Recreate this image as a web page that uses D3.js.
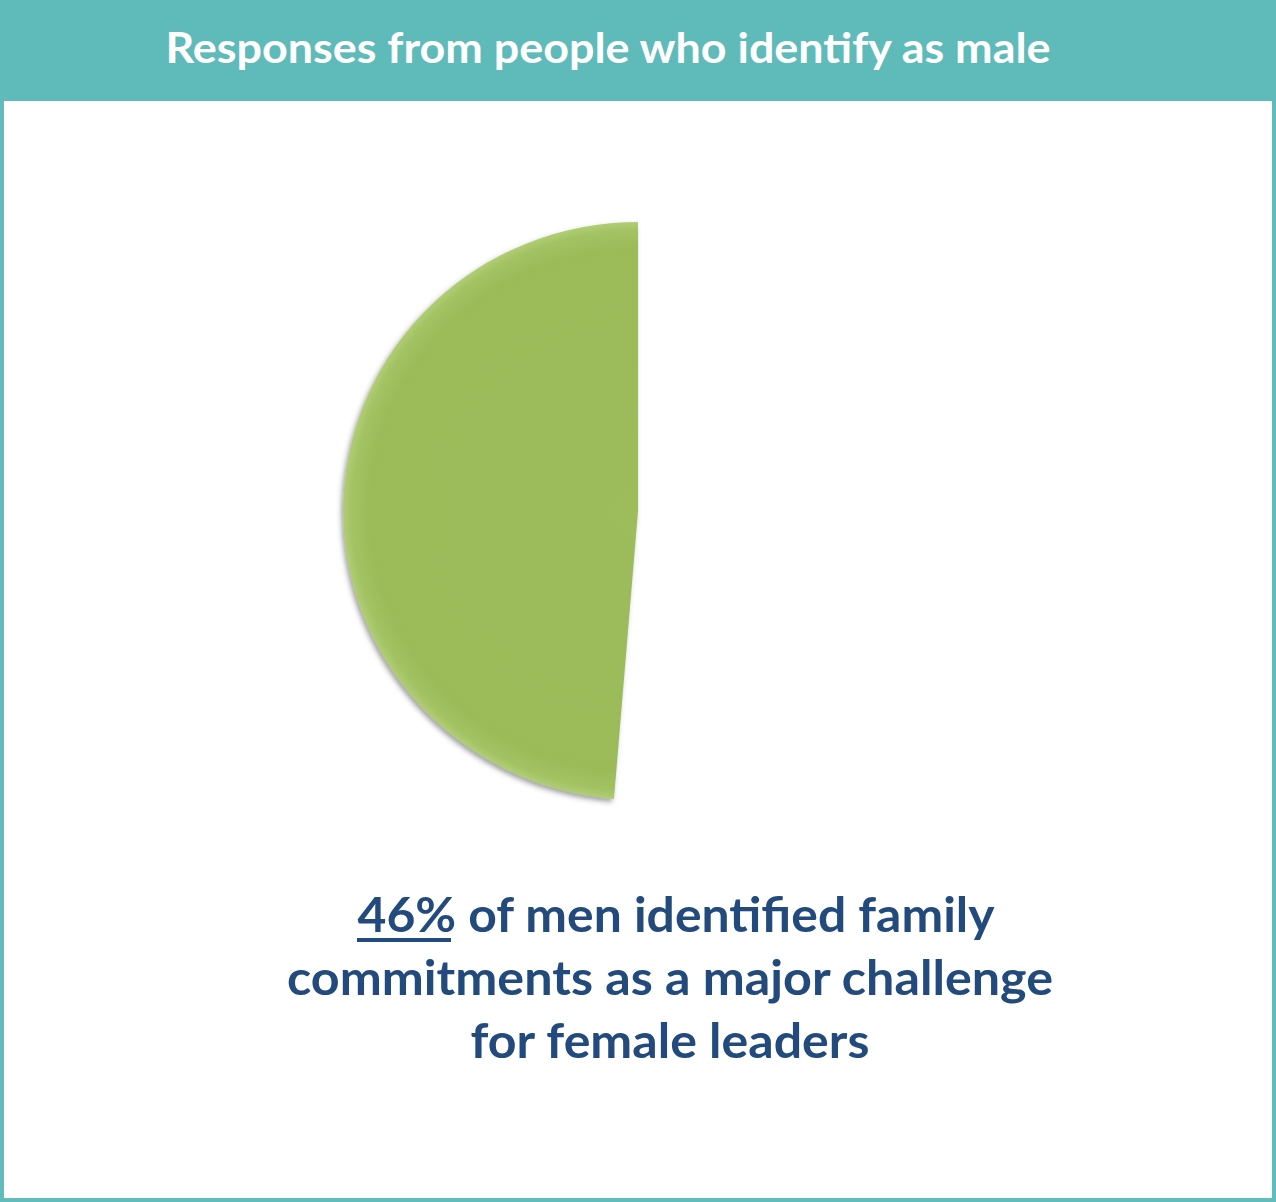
<!DOCTYPE html>
<html>
<head>
<meta charset="utf-8">
<script src="https://cdn.jsdelivr.net/npm/d3@7"></script>
<style>
  html, body { margin: 0; padding: 0; background: #fff; }
  svg { display: block; }
</style>
</head>
<body>
<div id="chart"></div>
<script>
// data
const categories = ['Family commitments a major challenge', 'Other responses'];
const values = [48.7, 51.3];
const title = 'Responses from people who identify as male';
const highlight = '46%';
const captionLines = [
  ' of men identified family',
  'commitments as a major challenge',
  'for female leaders'
];

const W = 1276, H = 1202;
const svg = d3.select('#chart').append('svg')
  .attr('width', W)
  .attr('height', H);

const defs = svg.append('defs');

// soft shadow like the office bevel effect
const shadow = defs.append('filter').attr('id', 'shadow')
  .attr('x', '-10%').attr('y', '-10%').attr('width', '120%').attr('height', '120%');
shadow.append('feDropShadow')
  .attr('dx', -2).attr('dy', 3).attr('stdDeviation', 2.5)
  .attr('flood-color', '#444').attr('flood-opacity', 0.5);

const grad = defs.append('radialGradient').attr('id', 'bevel')
  .attr('gradientUnits', 'userSpaceOnUse')
  .attr('cx', 0).attr('cy', 0).attr('r', 292);
grad.append('stop').attr('offset', '0%').attr('stop-color', '#9dbc5c');
grad.append('stop').attr('offset', '90%').attr('stop-color', '#9bbb59');
grad.append('stop').attr('offset', '96%').attr('stop-color', '#a3c263');
grad.append('stop').attr('offset', '100%').attr('stop-color', '#b5d17c');

// frame
svg.append('rect')
  .attr('x', 2).attr('y', 2).attr('width', W - 4).attr('height', H - 4)
  .attr('fill', '#fff')
  .attr('stroke', '#62bcbc').attr('stroke-width', 4);
svg.append('rect')
  .attr('x', 0).attr('y', 0).attr('width', W).attr('height', 101)
  .attr('fill', '#5fbaba');

svg.append('text')
  .attr('x', 608).attr('y', 63)
  .attr('text-anchor', 'middle')
  .attr('font-family', 'Lato, "Open Sans", sans-serif')
  .attr('font-weight', 700)
  .attr('font-size', 42)
  .attr('fill', '#fff')
  .attr('textLength', 885)
  .attr('lengthAdjust', 'spacingAndGlyphs')
  .text(title);

// pie, drawn counter-clockwise from 12 o'clock, a touch wider than tall
const cx = 638, cy = 511, radius = 289;
const pie = d3.pie().sort(null).startAngle(0).endAngle(-2 * Math.PI);
const arc = d3.arc().innerRadius(0).outerRadius(radius);

const g = svg.append('g').attr('transform', `translate(${cx},${cy}) scale(1.02,1)`);
g.selectAll('path')
  .data(pie(values))
  .join('path')
  .attr('d', arc)
  .attr('fill', (d, i) => i === 0 ? 'url(#bevel)' : 'none')
  .attr('filter', (d, i) => i === 0 ? 'url(#shadow)' : null)
  .append('title')
  .text((d, i) => categories[i]);

// caption
const lineWidths = [637, 766, 399];
const baselines = [932, 995, 1058];
captionLines.forEach((line, i) => {
  const t = svg.append('text')
    .attr('x', i === 0 ? 676 : 670)
    .attr('y', baselines[i])
    .attr('text-anchor', 'middle')
    .attr('font-family', 'Lato, "Open Sans", sans-serif')
    .attr('font-weight', 700)
    .attr('font-size', 48)
    .attr('fill', '#234a7c')
    .attr('textLength', lineWidths[i])
    .attr('lengthAdjust', 'spacingAndGlyphs');
  if (i === 0) {
    t.append('tspan').text(highlight);
  }
  t.append('tspan').text(line);
});

// underline under the percentage
svg.append('rect')
  .attr('x', 357).attr('y', 938)
  .attr('width', 94).attr('height', 4)
  .attr('fill', '#234a7c');
</script>
</body>
</html>
